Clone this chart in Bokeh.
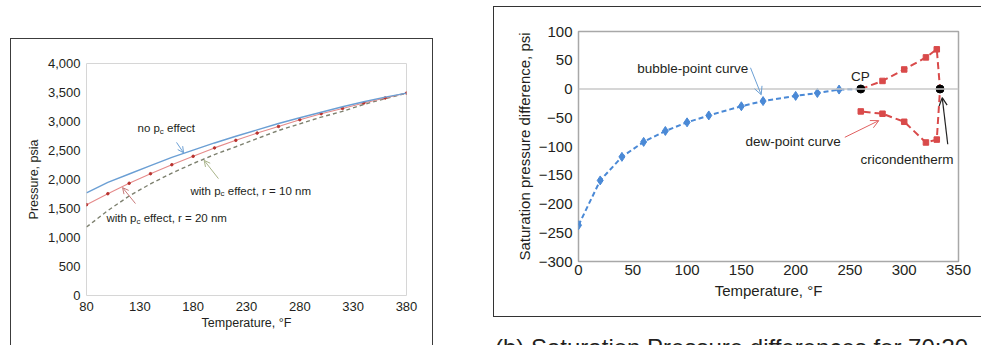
from bokeh.plotting import figure
from bokeh.layouts import row, column
from bokeh.models import (Range1d, FixedTicker, NumeralTickFormatter, Arrow, OpenHead,
                          Label, Span, Div)
from bokeh.embed import file_html
from bokeh.resources import INLINE

# ---------------- (a) pressure vs temperature ----------------
temp_a = [80, 100, 120, 140, 160, 180, 200, 220, 240, 260, 280, 300, 320, 340, 360, 380]
p_no_pc = [1770, 1950, 2095, 2240, 2380, 2505, 2630, 2745, 2855, 2965, 3065, 3160, 3255, 3340, 3420, 3490]
p_r20 = [1565, 1755, 1935, 2100, 2255, 2400, 2545, 2675, 2800, 2915, 3030, 3135, 3225, 3320, 3405, 3490]
p_r10 = [1180, 1465, 1715, 1925, 2110, 2275, 2430, 2565, 2705, 2845, 2960, 3075, 3175, 3295, 3395, 3490]
a_xticks = [80, 130, 180, 230, 280, 330, 380]
a_yticks = [0, 500, 1000, 1500, 2000, 2500, 3000, 3500, 4000]

# ---------------- (b) saturation pressure differences ----------------
bubble_t = [0, 20, 40, 60, 80, 100, 120, 150, 170, 200, 220, 240, 260]
bubble_dp = [-237, -159, -118, -92, -73, -58, -46, -30, -21, -12, -7, -1, 0]
dew_t = [260, 280, 300, 320, 330, 333, 330, 320, 300, 280, 260]
dew_dp = [0, 14, 34, 55, 69, 0, -88, -93, -57, -43, -39]
dew_mark_t = [280, 300, 320, 330, 330, 320, 300, 280, 260]
dew_mark_dp = [14, 34, 55, 69, -88, -93, -57, -43, -39]
special_t = [260, 333]       # critical point, cricondentherm
special_dp = [0, 0]
b_xticks = [0, 50, 100, 150, 200, 250, 300, 350]
b_yticks = [100, 50, 0, -50, -100, -150, -200, -250, -300]
b_ylabels = ["100", "50", "0", "\u221250", "\u2212100", "\u2212150", "\u2212200", "\u2212250", "\u2212300"]
caption_b = "(b) Saturation Pressure differences for 70:30"

FONT = "Liberation Sans"
INK = "#231f20"

# Arial-metric advance widths (per 1000 em) for composing subscripted labels
ADV = {' ': 278, ',': 278, '=': 584, 'a': 556, 'b': 556, 'c': 500, 'd': 556, 'e': 556,
       'f': 278, 'h': 556, 'i': 222, 'm': 833, 'n': 556, 'o': 556, 'p': 556, 'r': 333,
       't': 278, 'w': 722}
for d in "0123456789":
    ADV[d] = 556


def text_width(s, size):
    return sum(ADV.get(ch, 556) for ch in s) * size / 1000.0


def pc_label(p, x, y, before, after, size=11.5, color=INK):
    """Draw '<before>p_c <after>' with a lowered, smaller 'c'."""
    sub = size * 0.7
    off = 0.0
    common = dict(x=x, y=y, text_font=FONT, text_color=color, text_baseline="middle")
    p.add_layout(Label(text=before, text_font_size=f"{size}px", **common))
    off += text_width(before, size)
    p.add_layout(Label(x_offset=off, y_offset=-3, text="c",
                       text_font_size=f"{sub:.1f}px", **common))
    off += text_width("c", sub) + text_width(" ", size)
    p.add_layout(Label(x_offset=off, text=after, text_font_size=f"{size}px", **common))


def style_axes(p, tick_px, title_px, xstand, xlab_stand, ystand, ylab_stand):
    for ax in (p.xaxis[0], p.yaxis[0]):
        ax.axis_line_color = None
        ax.major_tick_line_color = None
        ax.minor_tick_line_color = None
        ax.major_tick_out = 0
        ax.major_tick_in = 0
        ax.major_label_text_font = FONT
        ax.major_label_text_font_size = tick_px
        ax.major_label_text_color = INK
        ax.axis_label_text_font = FONT
        ax.axis_label_text_font_size = title_px
        ax.axis_label_text_font_style = "normal"
        ax.axis_label_text_color = INK
    p.xaxis[0].major_label_standoff = xstand
    p.xaxis[0].axis_label_standoff = xlab_stand
    p.yaxis[0].major_label_standoff = ystand
    p.yaxis[0].axis_label_standoff = ylab_stand
    p.grid.visible = False


# ---------------- panel (a) ----------------
pa = figure(width=421, height=306, x_range=Range1d(80, 380), y_range=Range1d(0, 4000),
            output_backend="svg", toolbar_location=None,
            min_border_left=75, min_border_right=26, min_border_top=24, min_border_bottom=50,
            background_fill_color="white", border_fill_color="white",
            margin=(39, 0, 0, 11), styles={"outline": "1px solid #3c3c3c"})
pa.outline_line_color = "#d6d6d6"
pa.outline_line_width = 1
pa.xaxis.ticker = FixedTicker(ticks=a_xticks)
pa.yaxis.ticker = FixedTicker(ticks=a_yticks)
pa.yaxis.formatter = NumeralTickFormatter(format="0,0")
pa.xaxis.axis_label = "Temperature, \u00b0F"
pa.yaxis.axis_label = "Pressure, psia"
style_axes(pa, "13px", "12.5px", 6, 2, 6, 4)

pa.line(temp_a, p_r10, line_color="#7d806f", line_width=1.4, line_dash="4 3")
pa.line(temp_a, p_r20, line_color="#e58a8a", line_width=1.1)
pa.scatter(temp_a, p_r20, size=2.5, color="#b8322e")
pa.line(temp_a, p_no_pc, line_color="#6b9fd4", line_width=1.4)

pc_label(pa, 127.8, 2880, "no p", "effect")
pc_label(pa, 177.5, 1810, "with p", "effect, r = 10 nm")
pc_label(pa, 98.7, 1330, "with p", "effect, r = 20 nm")
pa.add_layout(Arrow(x_start=164.4, y_start=2640, x_end=171, y_end=2460,
                    line_color="#6b9fd4", line_width=1,
                    end=OpenHead(size=6, line_color="#6b9fd4", line_width=1)))
pa.add_layout(Arrow(x_start=203.7, y_start=2015, x_end=190.3, y_end=2330,
                    line_color="#a9b48a", line_width=1,
                    end=OpenHead(size=6, line_color="#a9b48a", line_width=1)))
pa.add_layout(Arrow(x_start=125.9, y_start=1585, x_end=113.8, y_end=1860,
                    line_color="#c77a7a", line_width=1,
                    end=OpenHead(size=6, line_color="#c77a7a", line_width=1)))

# ---------------- panel (b) ----------------
pb = figure(width=487, height=309, x_range=Range1d(0, 350), y_range=Range1d(-300, 100),
            output_backend="svg", toolbar_location=None,
            min_border_left=84, min_border_right=23, min_border_top=24, min_border_bottom=55,
            background_fill_color="white", border_fill_color="white",
            margin=(7, 0, 0, 62), styles={"outline": "1px solid #333333"})
pb.outline_line_color = "#a8a8a8"
pb.outline_line_width = 1.5
pb.xaxis.ticker = FixedTicker(ticks=b_xticks)
pb.yaxis.ticker = FixedTicker(ticks=b_yticks)
pb.yaxis.major_label_overrides = dict(zip(b_yticks, b_ylabels))
pb.xaxis.axis_label = "Temperature, \u00b0F"
pb.yaxis.axis_label = "Saturation pressure difference, psi"
style_axes(pb, "15px", "15px", 3, 4, 6, 3)

pb.add_layout(Span(location=0, dimension="width", line_color="#c9c9c9", line_width=1.5))
pb.line(bubble_t, bubble_dp, line_color="#4a89d6", line_width=2, line_dash="5 3")
pb.scatter(bubble_t[:-1], bubble_dp[:-1], marker="diamond", size=9, color="#4a89d6")
pb.line(dew_t, dew_dp, line_color="#d94a4a", line_width=2, line_dash="7 4")
pb.scatter(dew_mark_t, dew_mark_dp, marker="square", size=5.5, color="#d94a4a")
pb.scatter(special_t, special_dp, marker="circle", size=8, color="black")

for txt, x, y, align in [("bubble-point curve", 54, 36, "left"),
                         ("CP", 259.7, 22, "center"),
                         ("dew-point curve", 153.8, -91, "left"),
                         ("cricondentherm", 259.7, -123, "left")]:
    pb.add_layout(Label(x=x, y=y, text=txt, text_font=FONT, text_font_size="13.5px",
                        text_color=INK, text_align=align, text_baseline="middle"))
pb.add_layout(Arrow(x_start=158.4, y_start=37, x_end=168.3, y_end=-10,
                    line_color="#6b9fd4", line_width=1,
                    end=OpenHead(size=8, line_color="#6b9fd4", line_width=1)))
pb.add_layout(Arrow(x_start=245.3, y_start=-84, x_end=276.6, y_end=-55,
                    line_color="#e06060", line_width=1,
                    end=OpenHead(size=8, line_color="#e06060", line_width=1)))
pb.add_layout(Arrow(x_start=340.1, y_start=-96, x_end=335, y_end=-15,
                    line_color="#222222", line_width=1.2,
                    end=OpenHead(size=8, line_color="#222222", line_width=1.2)))

caption = Div(text=caption_b, width=487, height=9, margin=(20, 0, 0, 63),
              styles={"font-family": FONT, "font-size": "24px", "line-height": "24px",
                      "color": INK, "overflow": "hidden", "white-space": "nowrap"})

layout = row(pa, column(pb, caption, spacing=0), spacing=0)
open("out.html", "w").write(file_html(layout, INLINE))
